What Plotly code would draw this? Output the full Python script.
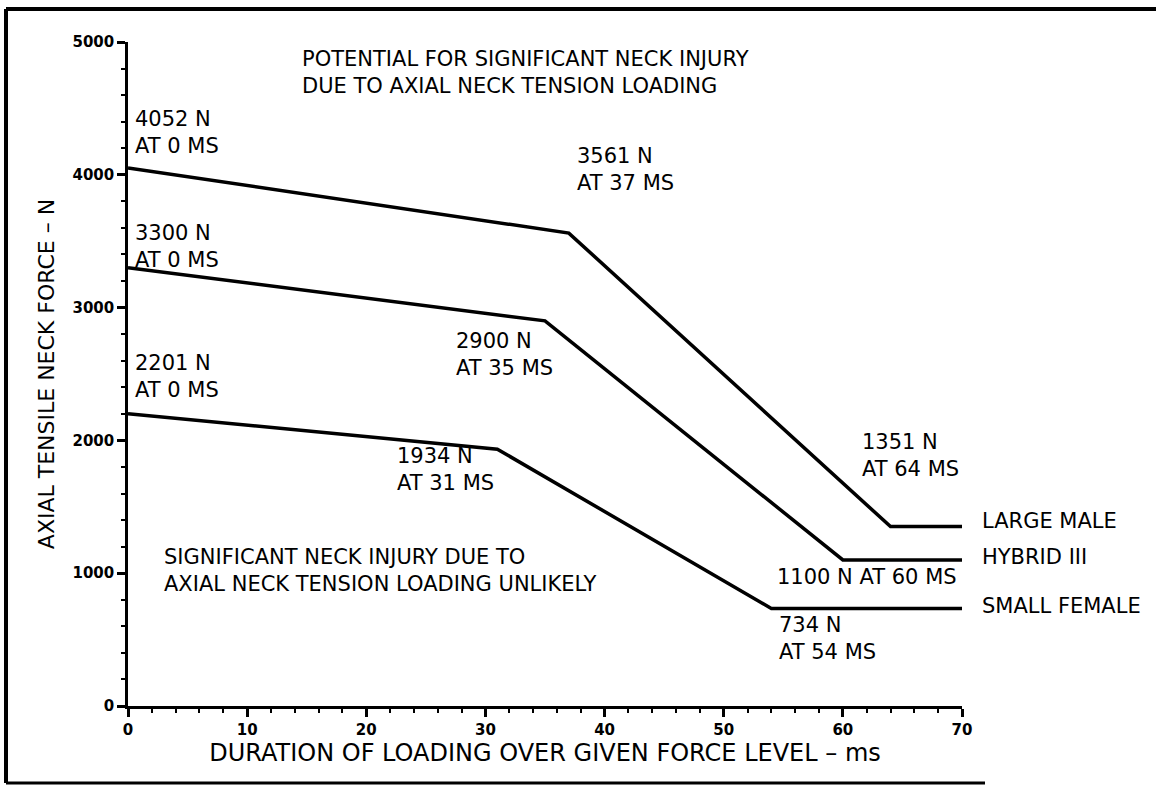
import plotly.graph_objects as go

# ---- data ----
large_male_x = [0, 37, 64, 70]
large_male_y = [4052, 3561, 1351, 1351]
hybrid_x = [0, 35, 60, 70]
hybrid_y = [3300, 2900, 1100, 1100]
small_female_x = [0, 31, 54, 70]
small_female_y = [2201, 1934, 734, 734]

x_ticks = [0, 10, 20, 30, 40, 50, 60, 70]
y_ticks = [0, 1000, 2000, 3000, 4000, 5000]

# point labels: (text, x, y)
point_labels = [
    ("4052 N<br>AT 0 MS", 0.4, 4320),
    ("3300 N<br>AT 0 MS", 0.4, 3460),
    ("2201 N<br>AT 0 MS", 0.4, 2480),
    ("3561 N<br>AT 37 MS", 37.5, 4040),
    ("2900 N<br>AT 35 MS", 27.4, 2650),
    ("1934 N<br>AT 31 MS", 22.4, 1780),
    ("1351 N<br>AT 64 MS", 61.4, 1890),
    ("1100 N AT 60 MS", 54.3, 975),
    ("734 N<br>AT 54 MS", 54.5, 510),
]
series_names = ["LARGE MALE", "HYBRID III", "SMALL FEMALE"]
series_label_y = [1393, 1125, 755]
region_labels = [
    ("POTENTIAL FOR SIGNIFICANT NECK INJURY<br>DUE TO AXIAL NECK TENSION LOADING", 14.4, 4770),
    ("SIGNIFICANT NECK INJURY DUE TO<br>AXIAL NECK TENSION LOADING UNLIKELY", 2.85, 1020),
]

FONT = "DejaVu Sans"
FS = 21

# plot-area pixel box
L, R, T, B = 128, 962, 42, 706
def px(p):
    return (p - L) / (R - L)
def py(p):
    return (B - p) / (B - T)

fig = go.Figure()
for xs, ys in [(large_male_x, large_male_y), (hybrid_x, hybrid_y), (small_female_x, small_female_y)]:
    fig.add_trace(go.Scatter(x=xs, y=ys, mode="lines",
                             line=dict(color="black", width=3.5), showlegend=False,
                             hoverinfo="skip"))

for txt, x, y in point_labels + region_labels:
    fig.add_annotation(x=x, y=y, xref="x", yref="y", text=txt, showarrow=False,
                       xanchor="left", yanchor="middle", align="left",
                       font=dict(family=FONT, size=FS, color="black"))

for name, y in zip(series_names, series_label_y):
    fig.add_annotation(x=px(980), y=y, xref="paper", yref="y", text=name, showarrow=False,
                       xanchor="left", yanchor="middle", align="left",
                       font=dict(family=FONT, size=FS, color="black"))

# page frame
frame = [
    (6, 9, 6, 783, 4),
    (6, 9, 1156, 9, 4),
    (6, 783, 985, 783, 3),
]
for x0, y0, x1, y1, w in frame:
    fig.add_shape(type="line", xref="paper", yref="paper",
                  x0=px(x0), y0=py(y0), x1=px(x1), y1=py(y1),
                  line=dict(color="black", width=w))

fig.update_xaxes(range=[0, 70], tickvals=x_ticks, ticktext=[str(v) for v in x_ticks],
                 showline=True, linecolor="black", linewidth=2.5, mirror=False,
                 ticks="outside", ticklen=8, tickwidth=2.5, tickcolor="black",
                 minor=dict(dtick=2, ticks="outside", ticklen=4, tickwidth=2, tickcolor="black"),
                 showgrid=False, zeroline=False, automargin=False,
                 tickfont=dict(family=FONT, size=15, color="black", weight="bold"),
                 title=dict(text="DURATION OF LOADING OVER GIVEN FORCE LEVEL – ms",
                            font=dict(family=FONT, size=24, color="black"), standoff=4))
fig.update_yaxes(range=[0, 5000], tickvals=y_ticks, ticktext=[str(v) for v in y_ticks],
                 showline=True, linecolor="black", linewidth=2.5, mirror=False,
                 ticks="outside", ticklen=8, tickwidth=2.5, tickcolor="black",
                 minor=dict(dtick=200, ticks="outside", ticklen=4, tickwidth=2, tickcolor="black"),
                 showgrid=False, zeroline=False, automargin=False,
                 tickfont=dict(family=FONT, size=15, color="black", weight="bold"),
                 title=dict(text="AXIAL TENSILE NECK FORCE – N",
                            font=dict(family=FONT, size=22, color="black"), standoff=12))

fig.update_layout(width=1156, height=786,
                  margin=dict(l=L, r=1156 - R, t=T, b=786 - B, autoexpand=False),
                  paper_bgcolor="white", plot_bgcolor="white",
                  font=dict(family=FONT, color="black"))

fig.write_html("out.html", config={"displayModeBar": False},
               post_script="document.body.style.margin='0';document.body.style.overflow='hidden';")
